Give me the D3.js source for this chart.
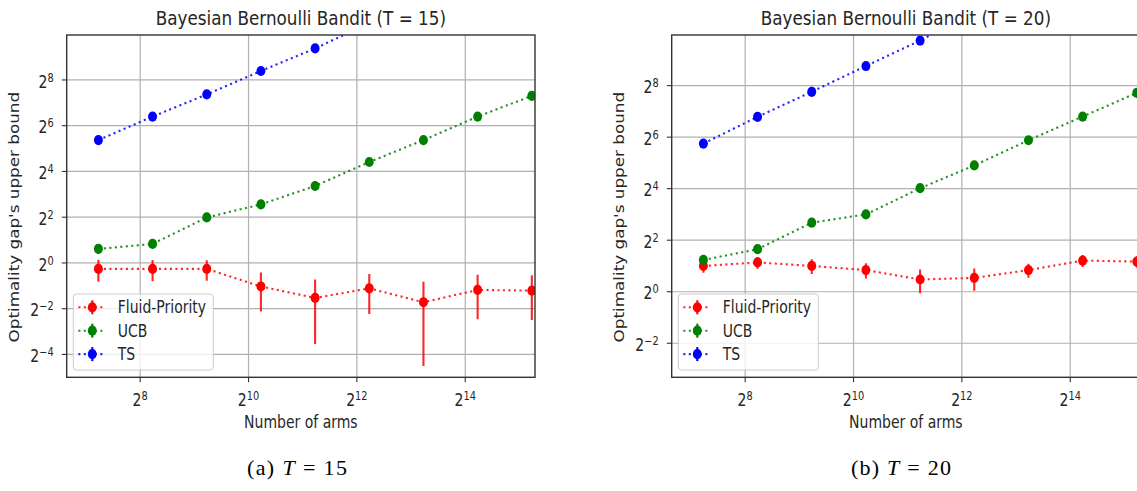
<!DOCTYPE html>
<html>
<head>
<meta charset="utf-8">
<script src="https://cdn.jsdelivr.net/npm/d3@7"></script>
<style>
  body { margin: 0; background: #fff; }
  svg { display: block; }
  text { font-family: "DejaVu Sans", sans-serif; fill: #262626; }
  text.caption { font-family: "Liberation Serif", serif; fill: #000; }
</style>
</head>
<body>
<div id="figure"></div>
<script>
// data
const ARMS = [150, 300, 600, 1200, 2400, 4800, 9600, 19200, 38400];
const SERIES_NAMES = ["Fluid-Priority", "UCB", "TS"];
const SERIES_COLORS = ["#ff0000", "#008000", "#0000ff"];

// T = 15
const FP_T15 = [0.835, 0.835, 0.835, 0.49, 0.346, 0.463, 0.304, 0.441, 0.432];
const FP_ERR_T15 = [0.27, 0.26, 0.25, 0.26, 0.26, 0.25, 0.26, 0.26, 0.255];
const UCB_T15 = [1.53, 1.78, 3.97, 5.9, 10.3, 21.3, 41.4, 84.4, 158];
const UCB_ERR_T15 = [0.22, 0.2, 0.2, 0.2, 0.2, 0.2, 0.2, 0.2, 0.2];
const TS_T15 = [41.4, 84.4, 165, 336, 666, 1430];

// T = 20
const FP_T20 = [2.0, 2.2, 2.0, 1.79, 1.39, 1.45, 1.79, 2.31, 2.25];
const FP_ERR_T20 = [0.33, 0.35, 0.39, 0.36, 0.43, 0.42, 0.33, 0.37, 0.35];
const UCB_T20 = [2.35, 3.14, 6.41, 8.0, 16.2, 29.9, 58.9, 111.4, 211];
const UCB_ERR_T20 = [0.2, 0.2, 0.2, 0.2, 0.2, 0.2, 0.2, 0.2, 0.2];
const TS_T20 = [53.8, 110.6, 217, 434, 861, 1900];

// axes
const X_LIM = [100, 40000];
const X_TICK_EXP = [8, 10, 12, 14];
const Y_LIM_T15 = [2 ** -5, 1000];
const Y_LIM_T20 = [0.1, 1000];
const Y_TICK_EXP_T15 = [-4, -2, 0, 2, 4, 6, 8];
const Y_TICK_EXP_T20 = [-2, 0, 2, 4, 6, 8];
const TITLES = ["Bayesian Bernoulli Bandit (T = 15)", "Bayesian Bernoulli Bandit (T = 20)"];
const CAPTIONS = [["(a) ", "T", " = 15"], ["(b) ", "T", " = 20"]];
const X_LABEL = "Number of arms";
const Y_LABEL = "Optimality gap's upper bound";

// global constants
globalThis.FIG = { width: 1137, height: 491 };
globalThis.SY = 1.2; // the figure is stretched vertically
globalThis.PANELS = [
  {
    left: 66.7, top: 35, width: 468.3, height: 342.3, captionX: 297,
    yLim: Y_LIM_T15, yTicks: Y_TICK_EXP_T15, title: TITLES[0], caption: CAPTIONS[0],
    series: [[FP_T15, FP_ERR_T15], [UCB_T15, UCB_ERR_T15], [TS_T15, null]],
  },
  {
    left: 671.7, top: 35, width: 468.3, height: 342.3, captionX: 901,
    yLim: Y_LIM_T20, yTicks: Y_TICK_EXP_T20, title: TITLES[1], caption: CAPTIONS[1],
    series: [[FP_T20, FP_ERR_T20], [UCB_T20, UCB_ERR_T20], [TS_T20, null]],
  },
];

function stretch(x, y) {
  return `translate(${x},${y}) scale(1,${globalThis.SY})`;
}

function powLabel(text, exp) {
  text.append("tspan").text("2");
  text
    .append("tspan")
    .attr("font-size", 9.8)
    .attr("dy", -5)
    .text(exp < 0 ? "\u2212" + -exp : exp);
}

function renderPanel(svg, p, idx) {
  const x = d3.scaleLog().base(2).domain(X_LIM).range([p.left, p.left + p.width]);
  const y = d3.scaleLog().base(2).domain(p.yLim).range([p.top + p.height, p.top]);
  const bottom = p.top + p.height;
  const cx = p.left + p.width / 2;

  const clipId = "clip" + idx;
  svg
    .append("clipPath")
    .attr("id", clipId)
    .append("rect")
    .attr("x", p.left)
    .attr("y", p.top)
    .attr("width", p.width)
    .attr("height", p.height);

  const g = svg.append("g");

  // grid
  g.append("g")
    .selectAll("line")
    .data(X_TICK_EXP)
    .join("line")
    .attr("x1", (d) => x(2 ** d))
    .attr("x2", (d) => x(2 ** d))
    .attr("y1", p.top)
    .attr("y2", bottom)
    .attr("stroke", "#b0b0b0")
    .attr("stroke-width", 1.2);
  g.append("g")
    .selectAll("line")
    .data(p.yTicks)
    .join("line")
    .attr("x1", p.left)
    .attr("x2", p.left + p.width)
    .attr("y1", (d) => y(2 ** d))
    .attr("y2", (d) => y(2 ** d))
    .attr("stroke", "#b0b0b0")
    .attr("stroke-width", 1.2);

  // series
  const plot = g.append("g").attr("clip-path", `url(#${clipId})`);
  const line = d3
    .line()
    .x((d) => x(d[0]))
    .y((d) => y(d[1]));

  p.series.forEach(([vals, errs], s) => {
    if (!errs) return;
    plot
      .append("g")
      .selectAll("line")
      .data(vals.map((v, i) => [ARMS[i], v, errs[i]]))
      .join("line")
      .attr("x1", (d) => x(d[0]))
      .attr("x2", (d) => x(d[0]))
      .attr("y1", (d) => y(d[1] + d[2]))
      .attr("y2", (d) => y(Math.max(d[1] - d[2], 1e-6)))
      .attr("stroke", SERIES_COLORS[s])
      .attr("stroke-opacity", 0.85)
      .attr("stroke-width", 2.1);
  });

  p.series.forEach(([vals], s) => {
    const pts = vals.map((v, i) => [ARMS[i], v]);
    plot
      .append("path")
      .attr("d", line(pts))
      .attr("fill", "none")
      .attr("stroke", SERIES_COLORS[s])
      .attr("stroke-opacity", 0.85)
      .attr("stroke-width", 2.1)
      .attr("stroke-dasharray", "2.1 3.4");
    plot
      .append("g")
      .selectAll("ellipse")
      .data(pts)
      .join("ellipse")
      .attr("cx", (d) => x(d[0]))
      .attr("cy", (d) => y(d[1]))
      .attr("rx", 4.5)
      .attr("ry", 5.1)
      .attr("fill", SERIES_COLORS[s]);
  });

  // spines
  g.append("rect")
    .attr("x", p.left)
    .attr("y", p.top)
    .attr("width", p.width)
    .attr("height", p.height)
    .attr("fill", "none")
    .attr("stroke", "#333")
    .attr("stroke-width", 1.4);

  // x ticks
  const xt = g.append("g").selectAll("g").data(X_TICK_EXP).join("g");
  xt.append("line")
    .attr("x1", (d) => x(2 ** d))
    .attr("x2", (d) => x(2 ** d))
    .attr("y1", bottom)
    .attr("y2", bottom + 4.9)
    .attr("stroke", "#333")
    .attr("stroke-width", 1.1);
  xt.append("text")
    .attr("transform", (d) => stretch(x(2 ** d), bottom + 28.7))
    .attr("text-anchor", "middle")
    .attr("font-size", 14)
    .each(function (d) {
      powLabel(d3.select(this), d);
    });

  // y ticks
  const yt = g.append("g").selectAll("g").data(p.yTicks).join("g");
  yt.append("line")
    .attr("x1", p.left - 4.9)
    .attr("x2", p.left)
    .attr("y1", (d) => y(2 ** d))
    .attr("y2", (d) => y(2 ** d))
    .attr("stroke", "#333")
    .attr("stroke-width", 1.1);
  yt.append("text")
    .attr("transform", (d) => stretch(p.left - 13, y(2 ** d) + 7.6))
    .attr("text-anchor", "end")
    .attr("font-size", 14)
    .each(function (d) {
      powLabel(d3.select(this), d);
    });

  // labels
  g.append("text")
    .attr("transform", stretch(cx, 25))
    .attr("text-anchor", "middle")
    .attr("font-size", 16.8)
    .text(p.title);
  g.append("text")
    .attr("transform", stretch(cx, bottom + 51))
    .attr("text-anchor", "middle")
    .attr("font-size", 14)
    .text(X_LABEL);
  g.append("text")
    .attr("transform", stretch(p.left - 48.2, p.top + p.height / 2 + 11) + " rotate(-90)")
    .attr("text-anchor", "middle")
    .attr("font-size", 14)
    .text(Y_LABEL);

  // legend
  const lx = p.left + 6.6;
  const ly = p.top + 259;
  const leg = g.append("g");
  leg.append("rect")
    .attr("x", lx)
    .attr("y", ly)
    .attr("width", 140)
    .attr("height", 76)
    .attr("rx", 3)
    .attr("fill", "#fff")
    .attr("fill-opacity", 0.8)
    .attr("stroke", "#cccccc")
    .attr("stroke-width", 1);
  const row = leg
    .selectAll("g")
    .data(SERIES_NAMES)
    .join("g")
    .attr("transform", (_, i) => `translate(${lx},${ly + 13.3 + i * 23.4})`);
  row.append("line")
    .attr("x1", 5)
    .attr("x2", 30)
    .attr("stroke", (_, i) => SERIES_COLORS[i])
    .attr("stroke-opacity", 0.85)
    .attr("stroke-width", 2.1)
    .attr("stroke-dasharray", "2.1 3.4");
  row.append("line")
    .attr("x1", 19)
    .attr("x2", 19)
    .attr("y1", -7)
    .attr("y2", 7)
    .attr("stroke", (_, i) => SERIES_COLORS[i])
    .attr("stroke-width", 2.1);
  row.append("ellipse")
    .attr("cx", 19)
    .attr("rx", 4.5)
    .attr("ry", 5.1)
    .attr("fill", (_, i) => SERIES_COLORS[i]);
  row.append("text")
    .attr("transform", stretch(44.4, 6))
    .attr("font-size", 14)
    .text((d) => d);

  // caption
  const cap = svg
    .append("text")
    .attr("class", "caption")
    .attr("x", p.captionX - 50)
    .attr("y", 475)
    .attr("font-size", 22)
    .attr("textLength", 100)
    .attr("lengthAdjust", "spacing");
  cap.append("tspan").text(p.caption[0]);
  cap.append("tspan").attr("font-style", "italic").text(p.caption[1]);
  cap.append("tspan").text(p.caption[2]);
}

function main() {
  const svg = d3
    .select("#figure")
    .append("svg")
    .attr("width", globalThis.FIG.width)
    .attr("height", globalThis.FIG.height)
    .attr("viewBox", `0 0 ${globalThis.FIG.width} ${globalThis.FIG.height}`);
  svg.append("rect")
    .attr("width", globalThis.FIG.width)
    .attr("height", globalThis.FIG.height)
    .attr("fill", "#fff");
  globalThis.PANELS.forEach((p, i) => renderPanel(svg, p, i));
}

main();
</script>
</body>
</html>
